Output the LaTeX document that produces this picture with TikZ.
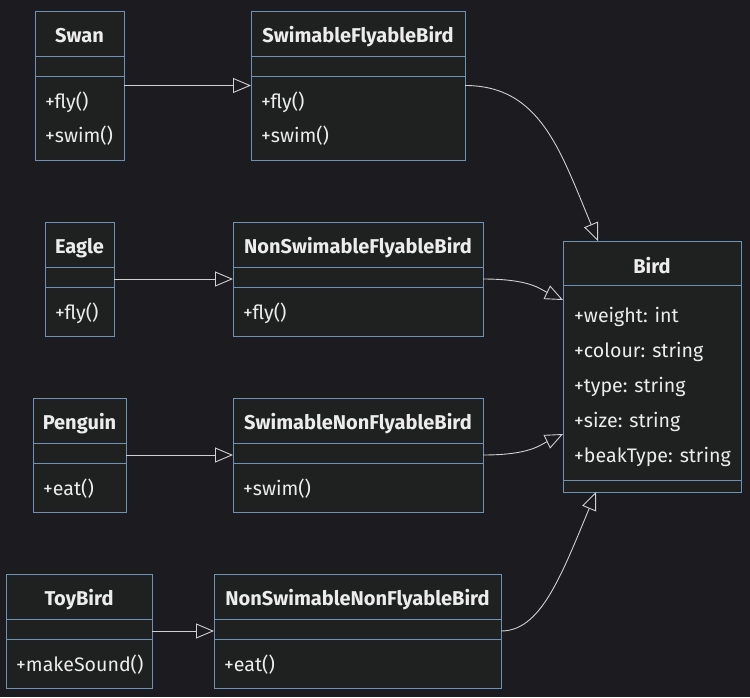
\documentclass[tikz,border=0pt]{standalone}
\usepackage{fontspec}
\setmainfont{Fira Sans}
\usetikzlibrary{arrows.meta}
\definecolor{bgdark}{HTML}{1C1C20}
\definecolor{boxfill}{HTML}{1F2020}
\definecolor{boxline}{HTML}{6E91B6}
\definecolor{txtlight}{HTML}{ECECEC}
\definecolor{edgegray}{HTML}{D0D0D0}

\begin{document}
\begin{tikzpicture}[x=1pt,y=-1pt]
\tikzset{classbox/.style = {draw=boxline, fill=boxfill, line width=1pt, anchor=north west, inner sep=0pt, outer sep=0pt}}
\tikzset{sepline/.style = {draw=boxline, line width=1pt}}
\tikzset{titletext/.style = {text=txtlight, font=\fontsize{20}{24}\selectfont\bfseries, anchor=base, inner sep=0pt}}
\tikzset{membertext/.style = {text=txtlight, font=\fontsize{19.6}{24}\selectfont, anchor=base west, inner sep=0pt}}
\tikzset{inherit/.style = {draw=edgegray, line width=0.9pt, -{Triangle[open, length=18pt, width=15pt]}}}
\fill[bgdark] (0,0) rectangle (750,697);
\useasboundingbox (0,0) rectangle (750,697);
% class boxes
\node[classbox, minimum width=89pt,  minimum height=149pt] (swan)    at (35,11)  {};
\node[classbox, minimum width=214pt, minimum height=149pt] (sfb)     at (251,11) {};
\node[classbox, minimum width=69pt,  minimum height=114pt] (eagle)   at (45,222) {};
\node[classbox, minimum width=250pt, minimum height=114pt] (nsfb)    at (233,222) {};
\node[classbox, minimum width=93pt,  minimum height=114pt] (penguin) at (33,398) {};
\node[classbox, minimum width=250pt, minimum height=114pt] (snfb)    at (233,398) {};
\node[classbox, minimum width=146pt, minimum height=114pt] (toybird) at (6,574)  {};
\node[classbox, minimum width=287pt, minimum height=114pt] (nsnfb)   at (214,574) {};
\node[classbox, minimum width=178pt, minimum height=251pt] (bird)    at (563,241) {};
% compartments
\foreach \c in {swan,sfb,eagle,nsfb,penguin,snfb,toybird,nsnfb} {
  \draw[sepline] ([yshift=-45pt]\c.north west) -- ([yshift=-45pt]\c.north east);
  \draw[sepline] ([yshift=-65pt]\c.north west) -- ([yshift=-65pt]\c.north east);
}
\draw[sepline] ([yshift=-44pt]bird.north west) -- ([yshift=-44pt]bird.north east);
\draw[sepline] ([yshift=-239pt]bird.north west) -- ([yshift=-239pt]bird.north east);
% titles
\node[titletext] (swanT)    at (79.5,42)  {Swan};
\node[titletext] (sfbT)     at (358,42)   {SwimableFlyableBird};
\node[titletext] (eagleT)   at (79.5,253) {Eagle};
\node[titletext] (nsfbT)    at (358,253)  {NonSwimableFlyableBird};
\node[titletext] (penguinT) at (79.5,429) {Penguin};
\node[titletext] (snfbT)    at (358,429)  {SwimableNonFlyableBird};
\node[titletext] (toybirdT) at (79,605)   {ToyBird};
\node[titletext] (nsnfbT)   at (357.5,605) {NonSwimableNonFlyableBird};
\node[titletext] (birdT)    at (652,273)  {Bird};
% members
\node[membertext] (swanM1)    at (45,108)  {+fly()};
\node[membertext] (swanM2)    at (45,142)  {+swim()};
\node[membertext] (sfbM1)     at (261,108) {+fly()};
\node[membertext] (sfbM2)     at (261,142) {+swim()};
\node[membertext] (eagleM1)   at (55,319)  {+fly()};
\node[membertext] (nsfbM1)    at (243,319) {+fly()};
\node[membertext] (penguinM1) at (43,495)  {+eat()};
\node[membertext] (snfbM1)    at (243,495) {+swim()};
\node[membertext] (toybirdM1) at (16,671)  {+makeSound()};
\node[membertext] (nsnfbM1)   at (224,671) {+eat()};
\node[membertext] (birdA1)    at (574,322) {+weight: int};
\node[membertext] (birdA2)    at (574,357) {+colour: string};
\node[membertext] (birdA3)    at (574,392) {+type: string};
\node[membertext] (birdA4)    at (574,427) {+size: string};
\node[membertext] (birdA5)    at (574,462) {+beakType: string};
% inheritance
\draw[inherit] (swan.east) -- (sfb.west);
\draw[inherit] (eagle.east) -- (nsfb.west);
\draw[inherit] (penguin.east) -- (snfb.west);
\draw[inherit] (toybird.east) -- (nsnfb.west);
\draw[inherit] (sfb.east) .. controls +(75,0) and +(-38,-91) .. ([xshift=-54pt]bird.north);
\draw[inherit] (nsfb.east) .. controls +(47,0) and +(-23,-11) .. ([yshift=-59pt]bird.north west);
\draw[inherit] (snfb.east) .. controls +(47,0) and +(-23,11) .. ([yshift=-193pt]bird.north west);
\draw[inherit] (nsnfb.east) .. controls +(39,0) and +(-36,87) .. ([xshift=-56pt]bird.south);
\end{tikzpicture}
\end{document}
